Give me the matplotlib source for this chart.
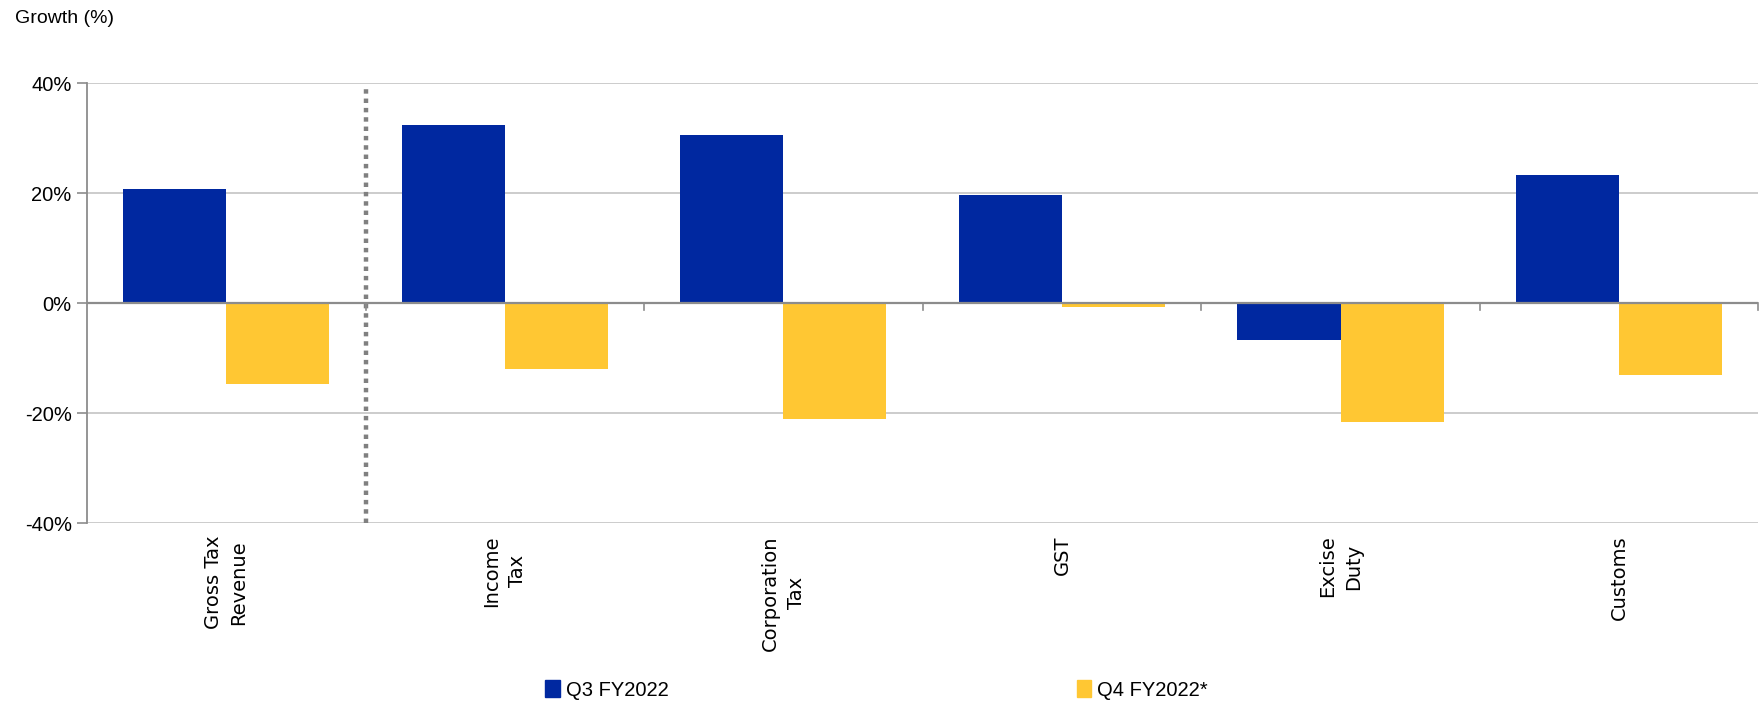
import matplotlib
matplotlib.use("Agg")
import matplotlib.pyplot as plt
import numpy as np
from matplotlib.patches import Patch

categories = ["Gross Tax\nRevenue", "Income\nTax", "Corporation\nTax", "GST", "Excise\nDuty", "Customs"]
q3_fy2022 = [20.7, 32.3, 30.5, 19.7, -6.7, 23.2]
q4_fy2022 = [-14.8, -11.9, -21.0, -0.7, -21.6, -13.1]
series_names = ["Q3 FY2022", "Q4 FY2022*"]
yticks = [-40, -20, 0, 20, 40]
ytick_labels = ["-40%", "-20%", "0%", "20%", "40%"]

blue = "#0028A0"
yellow = "#FFC733"
narrow = ["Liberation Sans Narrow", "Liberation Sans", "DejaVu Sans"]

fig = plt.figure(figsize=(17.64, 7.04), dpi=100)
ax = fig.add_axes([0.0493, 0.257, 0.9475, 0.625])

x = np.arange(len(categories))
w = 0.37
ax.bar(x - w / 2, q3_fy2022, w, color=blue, zorder=3)
ax.bar(x + w / 2, q4_fy2022, w, color=yellow, zorder=3)

ax.set_xlim(-0.5, len(categories) - 0.5)
ax.set_ylim(-40, 40)

# gridlines
for v in yticks:
    if v != 0:
        ax.axhline(v, color="#C8C8C8", lw=1.3, zorder=1)
ax.axhline(0, color="#8C8C8C", lw=1.6, zorder=4)

# dotted separator
ax.plot([0.5, 0.5], [-40, 39], color="#808080", lw=3.2, linestyle=(0, (1, 1.1)), zorder=2)

# category boundary ticks below zero line
for b in np.arange(0.5, len(categories), 1.0):
    ax.plot([b, b], [0, -1.3], color="#8C8C8C", lw=1.2, zorder=4, clip_on=False)

for s in ["top", "right", "bottom"]:
    ax.spines[s].set_visible(False)
ax.spines["left"].set_color("#8C8C8C")
ax.spines["left"].set_linewidth(1.3)

ax.set_yticks(yticks)
ax.set_yticklabels(ytick_labels, fontsize=14.5, family=narrow)
ax.tick_params(axis="y", length=7, color="#8C8C8C", width=1.2, pad=4)

ax.set_xticks(x)
ax.set_xticklabels(categories, rotation=90, fontsize=14, va="top", ha="center",
                   multialignment="center", linespacing=1.45)
ax.tick_params(axis="x", length=0, pad=9)

fig.text(0.0085, 0.974, "Growth (%)", fontsize=14, family=narrow, va="center", ha="left")

handles = [Patch(color=blue), Patch(color=yellow)]
fig.legend(handles, series_names, loc="center", bbox_to_anchor=(0.497, 0.02), ncol=2,
           frameon=False, prop={"family": narrow, "size": 14.5},
           handlelength=0.7, handleheight=0.9, handletextpad=0.3, columnspacing=20.3)

fig.savefig("out.png", dpi=100)
